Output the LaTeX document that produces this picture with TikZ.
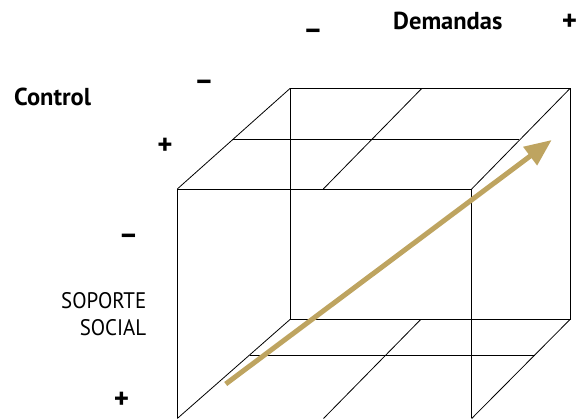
\documentclass[tikz,border=0pt]{standalone}
\usepackage{fontspec}
\setmainfont{PT Sans}
\newfontfamily\narrowsans[FakeStretch=0.93]{PT Sans}
\usetikzlibrary{arrows.meta}
\definecolor{trendgold}{RGB}{190,164,96}
\begin{document}
\begin{tikzpicture}[x=1pt,y=-1pt,
  edge/.style={draw=black,line width=0.8pt},
  plainlabel/.style={inner sep=0pt,font=\narrowsans\fontsize{22.5}{27}\selectfont},
  boldlabel/.style={inner sep=0pt,font=\fontsize{24.5}{29}\selectfont\bfseries},
  plussign/.style={inner sep=0pt,font=\fontsize{29}{34}\selectfont\bfseries},
  minussign/.style={inner sep=0pt,font=\fontsize{30}{34}\selectfont\bfseries},
  trend/.style={draw=trendgold,line width=5pt,-{Triangle[length=27pt,width=22pt]}}]
\useasboundingbox (0,0) rectangle (576,419);

% corners of the cube: back face
\coordinate (btl) at (290,88.5);
\coordinate (btr) at (570,88.5);
\coordinate (bbl) at (290,319.5);
\coordinate (bbr) at (570,319.5);
% front face (its lower edge runs along the bottom border)
\coordinate (ftl) at (177.3,189);
\coordinate (ftr) at (471.7,189);
\coordinate (fbl) at (177.3,418.5);
\coordinate (fbr) at (471.7,418.5);
% division lines on the top face
\coordinate (tmb) at (421.7,88.5);
\coordinate (tmf) at (323.3,189);
\coordinate (tml) at (233,139.5);
\coordinate (tmr) at (519,139.5);
% division lines on the bottom face
\coordinate (dmb) at (420.7,319.5);
\coordinate (dmf) at (323.5,418.5);
\coordinate (dml) at (250,355.5);
\coordinate (dmr) at (535,355.5);

% back face
\draw[edge] (btl) -- (btr) -- (bbr) -- (bbl) -- cycle;
% front face
\draw[edge] (fbl) -- (ftl) -- (ftr) -- (fbr);
% receding edges
\draw[edge] (ftl) -- (btl);
\draw[edge] (ftr) -- (btr);
\draw[edge] (fbl) -- (bbl);
\draw[edge] (fbr) -- (bbr);
% grid on top and bottom faces
\draw[edge] (tmb) -- (tmf);
\draw[edge] (tml) -- (tmr);
\draw[edge] (dmb) -- (dmf);
\draw[edge] (dml) -- (dmr);

% trend arrow
\coordinate (arrowtail) at (225.7,384);
\coordinate (arrowtip) at (551.7,140);
\draw[trend] (arrowtail) -- (arrowtip);

% axis titles
\node[boldlabel,anchor=base west] (demandas) at (393,30) {Demandas};
\node[boldlabel,anchor=base west] (control) at (14,105.5) {Control};
\node[plainlabel,anchor=base east] (soporte) at (146.5,308.3) {SOPORTE};
\node[plainlabel,anchor=base east] (social) at (146.5,335.7) {SOCIAL};

% signs along the axes
\node[minussign] (dminus) at (313,34) {–};
\node[plussign] (dplus) at (569.5,22) {+};
\node[minussign] (cminus) at (204,85) {–};
\node[plussign] (cplus) at (165,146) {+};
\node[minussign] (sminus) at (128.5,239) {–};
\node[plussign] (splus) at (121.5,400.7) {+};
\end{tikzpicture}
\end{document}
